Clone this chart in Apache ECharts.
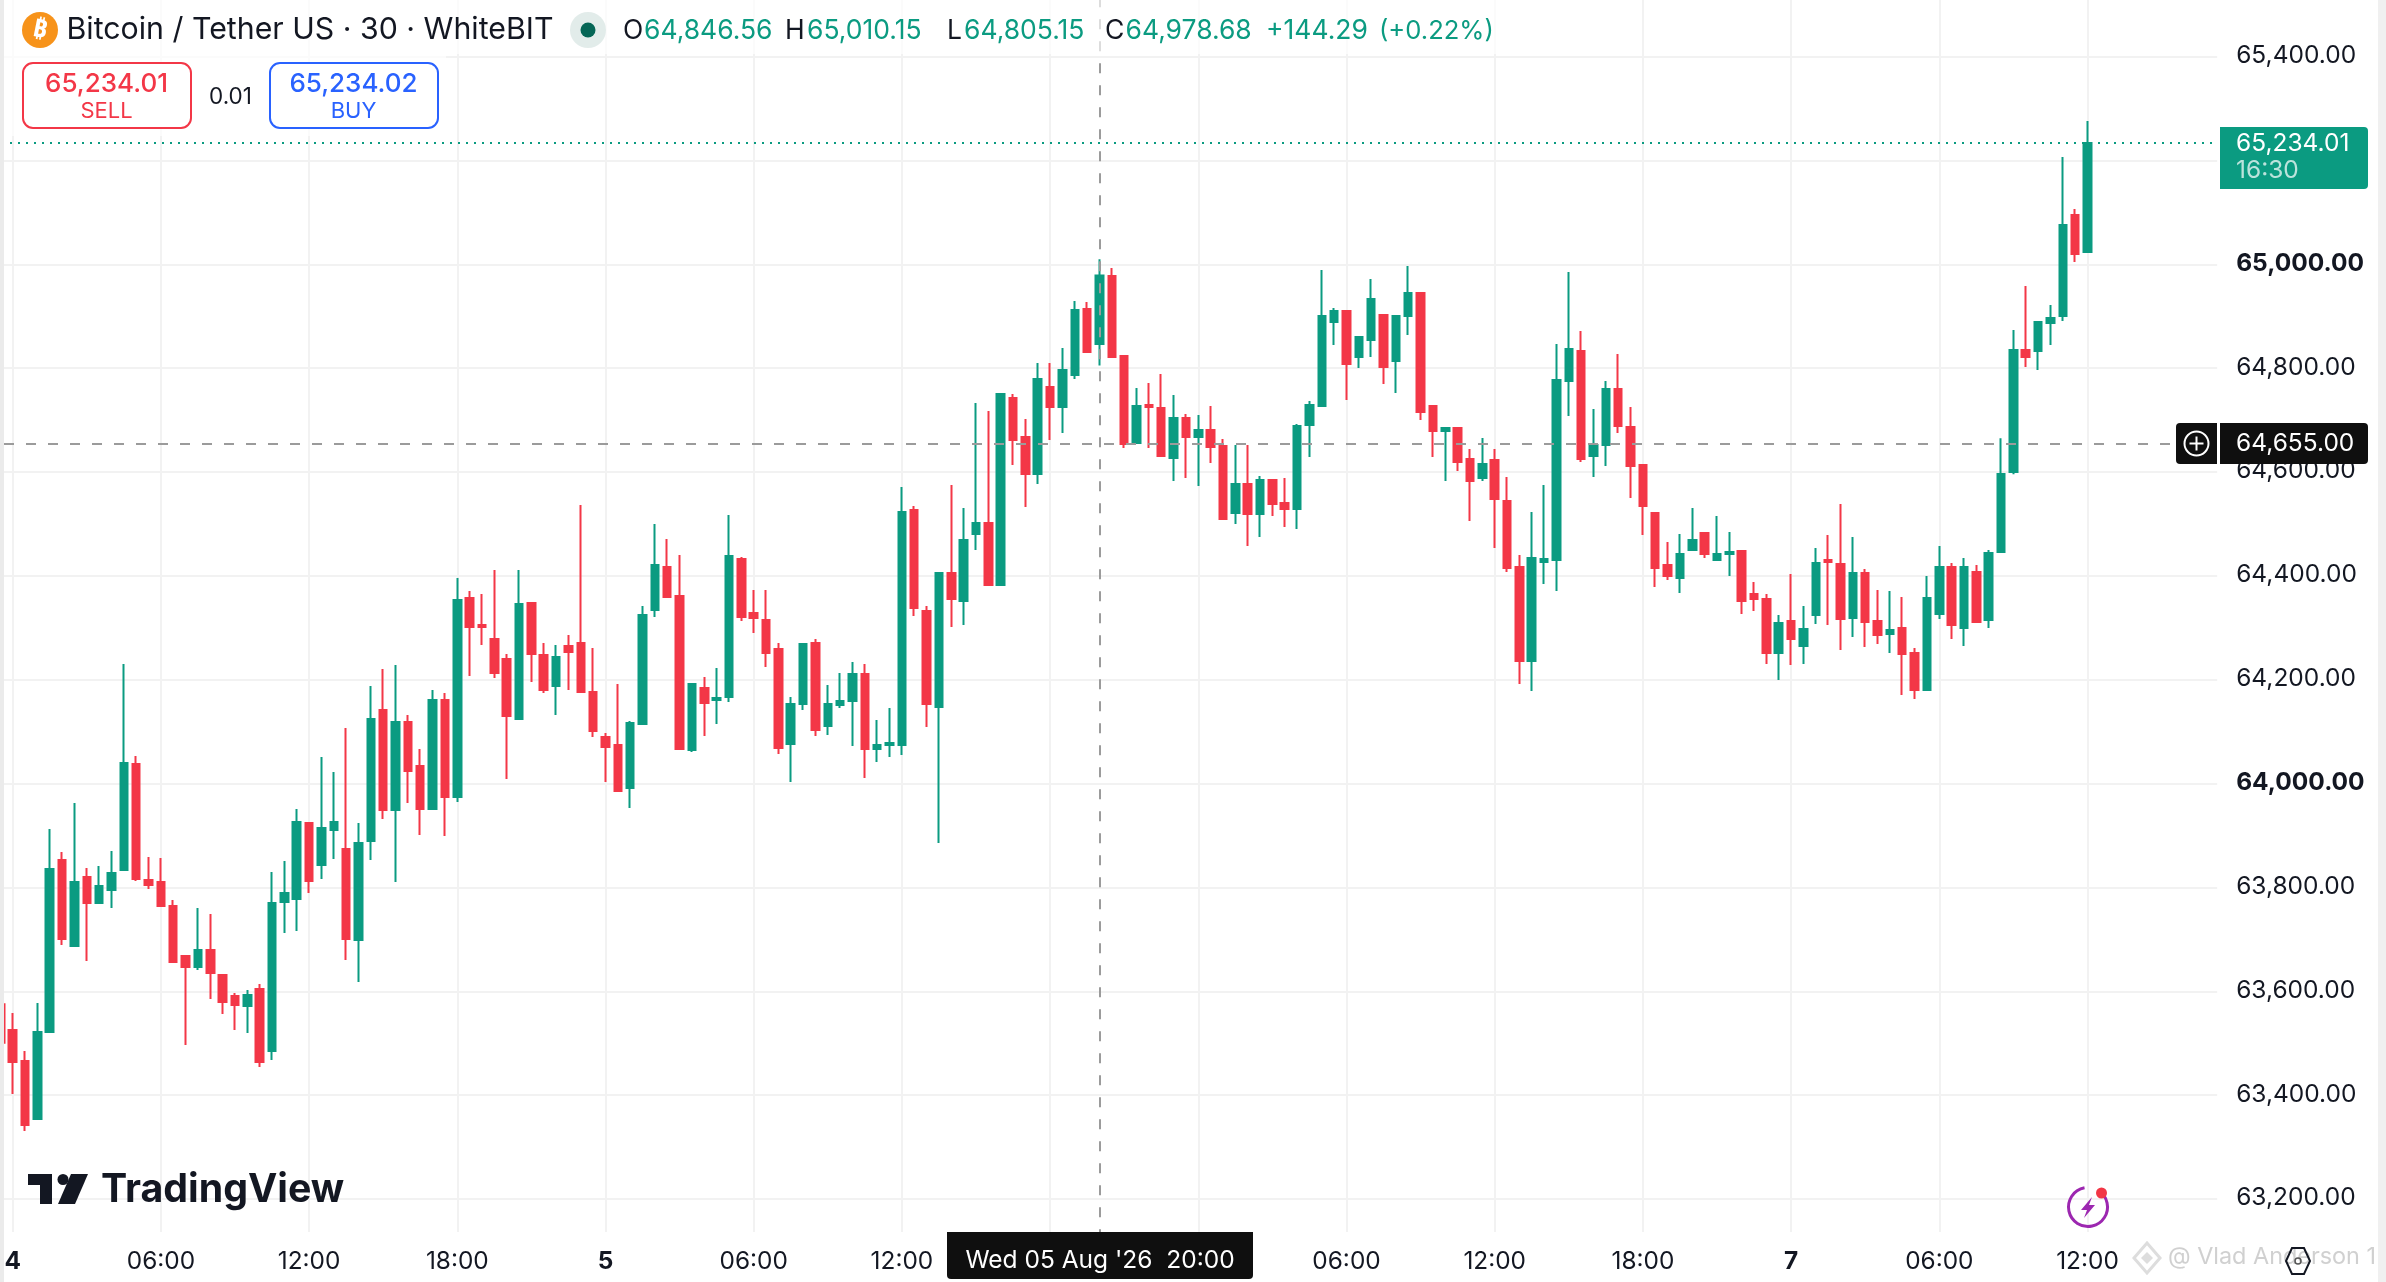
<!DOCTYPE html>
<html><head><meta charset="utf-8">
<script src="https://cdn.jsdelivr.net/npm/echarts@6/dist/echarts.min.js"></script>
<style>html,body{margin:0;padding:0;background:#fff}#c{width:2386px;height:1282px}</style>
</head><body><div id="c"></div>
<script>
// ---------- data (30-minute bars) ----------
const opens = [63575,63525.5,63465.8,63354,63521.7,63852.9,63687.3,63820.2,63770.2,63795.2,63833.7,64037.8,63814.4,63810.6,63764.3,63668,63646.9,63679.6,63631.4,63591,63571.7,63604.5,63485,63772,63777.8,63924.2,63843.3,63910.7,63874.1,63698.9,63889.5,64141.8,63949.2,64118.7,64034,63951.1,64161.1,63974.3,64357.5,64305.5,64278.6,64240,64124.5,64347.9,64247.7,64188,64265.1,64270.9,64176.5,64089.8,64074.4,63991.6,64114.9,64334.4,64417.2,64361.4,64064.8,64184.2,64161.1,64166.9,64432.6,64328.6,64315.2,64259.3,64076.3,64153.4,64270.9,64111,64151.4,64159.2,64211.2,64066.7,64074.4,64074.4,64527,64332.5,64147.6,64405.7,64351.8,64480.8,64502,64382.6,64742.7,64667.5,64596.4,64763.8,64725.3,64786.9,64914.1,64846.56,64977.6,64823.5,64656,64729.2,64723.4,64627.2,64704.1,64667.5,64681,64650.3,64521.2,64577.1,64519.3,64584.8,64540.5,64528.9,64690.6,64727.2,64889,64910.2,64821.6,64854.4,64902.5,64813.9,64900.6,64944.9,64727.2,64679.1,64684.9,64625.2,64588.7,64623.3,64544.4,64417.2,64236.2,64426.9,64430.7,64775.4,64833.2,64631,64652.1,64760,64686.8,64613.7,64521.2,64421.1,64396.1,64450,64482.7,64430.7,64442.3,64448.1,64365.2,64355.6,64251.6,64313.2,64265.1,64324.8,64430.7,64423,64319,64405.7,64313.2,64288.2,64299.8,64251.6,64180.3,64326.7,64417.2,64299.8,64407.6,64315.2,64446.1,64600,64835.1,64833.2,64887.1,64900.6,65095.1,65023.8];
const closes = [63501,63463.9,63342.5,63521.7,63835.6,63700.8,63810.6,63770.2,63802.9,63827.9,64039.7,63816.3,63804.8,63764.3,63656.5,63646.9,63679.6,63635.3,63579.4,63573.7,63592.9,63463.9,63770.2,63789.4,63926.1,63812.5,63914.6,63926.1,63700.8,63885.7,64124.5,63949.2,64118.7,64024.3,63951.1,64161.1,63974.3,64353.7,64301.7,64301.7,64213.1,64130.3,64346,64249.7,64180.3,64243.9,64253.5,64176.5,64101.4,64070.6,63985.8,64116.8,64324.8,64421.1,64359.5,64066.7,64191.9,64155.3,64164.9,64438.4,64320.9,64319,64251.6,64068.6,64153.4,64268.9,64103.3,64153.4,64159.2,64211.2,64066.7,64074.4,64078.3,64523.2,64338.3,64153.4,64405.7,64355.6,64469.2,64502,64382.6,64750.4,64661.8,64596.4,64779.2,64725.3,64796.6,64912.1,64831.2,64978.68,64821.6,64654.1,64727.2,64725.3,64630.9,64704.1,64667.5,64681,64648.3,64509.7,64577.1,64519.3,64584.8,64538.6,64528.9,64688.7,64729.2,64900.6,64910.2,64808.1,64860.1,64933.3,64802.4,64900.6,64944.9,64715.7,64679.1,64684.9,64619.4,64582.9,64615.6,64548.2,64415.3,64236.2,64434.6,64432.6,64777.3,64837,64625.2,64652.2,64760,64688.7,64611.8,64534.7,64415.3,64399.9,64442.3,64469.2,64442.3,64442.3,64446.1,64351.8,64355.6,64251.6,64309.4,64278.6,64297.8,64424.9,64426.9,64317.1,64405.7,64311.3,64286.3,64295.9,64249.7,64180.3,64357.5,64417.2,64305.5,64417.2,64311.3,64444.2,64596.4,64835.1,64821.6,64889,64896.7,65075.8,65020,65234.01];
const lows = [63490,63402.3,63331,63354,63521.7,63689,63687.3,63658.4,63770.2,63760.5,63833.7,63812.5,63797.1,63764.3,63656.5,63496.6,63641.1,63585.2,63556.3,63525.5,63519.7,63454.3,63467.7,63712.3,63716.2,63789.4,63816.3,63854.8,63660.3,63618,63852.9,63931.9,63810.6,63962.7,63901.1,63949.2,63899.1,63964.6,64207.3,64267,64203.5,64008.9,64124.5,64195.7,64174.6,64132.2,64180.3,64176.5,64089.8,64003.1,63983.9,63953.1,64114.9,64320.9,64359.5,64066.7,64060.9,64091.7,64114.9,64157.2,64313.2,64290.1,64224.6,64057.1,64003.1,64141.8,64091.7,64093.7,64145.7,64072.5,64010.9,64041.7,64051.3,64055.1,64322.9,64109.1,63885.7,64301.7,64305.5,64450,64382.6,64382.6,64613.6,64532.8,64577.1,64661.8,64675.2,64779.2,64831.2,64805.15,64821.6,64646.4,64656,64646.4,64629,64582.9,64588.7,64573.2,64617.5,64509.7,64500.1,64457.7,64475,64515.5,64494.3,64490.4,64629,64727.2,64844.7,64738.8,64800.4,64821.6,64769.6,64752.3,64864,64700.3,64629,64582.9,64602.1,64505.8,64582.9,64453.8,64407.6,64191.9,64178.4,64384.5,64371,64708,64619.4,64590.6,64611.7,64675.2,64550.1,64478.9,64378.7,64392.2,64367.2,64448.1,64434.6,64430.7,64399.9,64326.7,64332.5,64230.4,64199.6,64228.5,64230.4,64307.5,64305.5,64257.4,64282.4,64263.2,64268.9,64251.6,64170.7,64163,64180.3,64317.1,64278.6,64265.1,64311.3,64299.8,64446.1,64596,64802.4,64796.6,64844.7,64891,65004.6,65021.9];
const highs = [63590,63558.3,63485,63577.5,63912.6,63868.3,63962.7,63837.5,63841.4,63870.3,64230.4,64053.2,63858.7,63856.8,63775.9,63668,63760.5,63748.9,63631.4,63596.8,63602.6,63614.1,63829.8,63851,63951.1,63924.2,64051.3,64022.4,64107.2,63924.2,64188,64220.8,64228.5,64132.2,64066.7,64180.3,64174.6,64396.1,64371,64365.2,64411.5,64249.7,64411.5,64347.9,64270.9,64267,64286.3,64536.6,64261.2,64097.5,64191.9,64120.6,64342.1,64500.1,64471.2,64440.3,64191.9,64205.4,64222.7,64517.4,64436.5,64372.9,64372.9,64270.9,64166.9,64268.9,64278.6,64190,64213.1,64234.3,64230.4,64122.6,64145.7,64571.3,64534.7,64342.1,64405.7,64575.2,64530.9,64733,64717.6,64752.3,64750.4,64702.2,64810.1,64810.1,64839,64929.5,64927.5,65010.15,64993,64823.5,64761.9,64771.5,64788.9,64748.4,64711.8,64709.9,64727.2,64663.8,64652.2,64652.2,64592.5,64584.8,64588.7,64692.6,64736.9,64989.2,64916,64910.2,64860.1,64971.8,64904.4,64900.6,64996.9,64944.9,64727.2,64686.8,64684.9,64644.5,64665.7,64644.5,64590.6,64440.3,64523.2,64575.2,64846.7,64985.3,64871.7,64721.5,64775.4,64827.4,64725.3,64613.7,64521.2,64465.4,64480.8,64530.9,64484.6,64515.5,64484.6,64448.1,64388.3,64365.2,64324.8,64403.8,64342.1,64453.8,64478.9,64538.6,64475,64413.4,64372.9,64371,64359.5,64261.2,64399.9,64457.7,64424.9,64434.6,64421.1,64450,64665,64873.6,64958.4,64889,64921.8,65206.8,65106.7,65276.2];
const timeTickLabels = ['4','06:00','12:00','18:00','5','06:00','12:00','18:00','6','06:00','12:00','18:00','7','06:00','12:00'];
const priceTicks = [63200,63400,63600,63800,64000,64200,64400,64600,64800,65000,65200,65400];
const priceLabelTicks = [63200,63400,63600,63800,64000,64200,64400,64600,64800,65000,65400];
const lastPrice = 65234.01;
const crosshairPrice = 64655;
const crosshairBar = 89; // Wed 05 Aug '26 20:00

// ---------- scale setup ----------
const GREEN='#0b9b81', RED='#f33747', INK='#131722', FONT='Inter, "Noto Sans", sans-serif';
const totalSlots = 180, barsPerTick = 12;
const categories = Array.from({length: totalSlots}, (_, k) => 'k' + k);
const isTick = k => k >= 1 && (k - 1) % barsPerTick === 0 && (k - 1) / barsPerTick < timeTickLabels.length;
const labelOf = k => timeTickLabels[(k - 1) / barsPerTick];
const candles = opens.map((o, i) => [o, closes[i], lows[i], highs[i]]);

const chart = echarts.init(document.getElementById('c'), null, {renderer: 'canvas', width: 2386, height: 1282});

const txt = (text, x, y, fill, font, align) => ({type:'text', z:120, silent:true, style:{text, x, y, fill, font:font+' '+FONT, textAlign:align||'left', textVerticalAlign:'middle'}});
const rect = (x, y, w, h, fill, r, z, extra) => ({type:'rect', z:z||110, silent:true, shape:{x,y,width:w,height:h,r:r||0}, style:Object.assign({fill}, extra||{})});
const hdr = '400 26.5px', G=GREEN, AX='400 24.5px';

const graphics = [
  rect(0,0,1510,54,'rgba(255,255,255,0.65)',0,50),
  rect(0,54,446,82,'rgba(255,255,255,0.65)',0,50),
  rect(0,0,4,1282,'#ebebeb',0,130),
  rect(2378,0,8,1282,'#f0f0f0',0,130),
  // symbol header
  {type:'circle', z:120, silent:true, shape:{cx:40,cy:30,r:18}, style:{fill:'#f7931a'}},
  {type:'text', z:121, silent:true, rotation:-0.2, x:40, y:30, style:{text:'₿', x:0, y:0, fill:'#fff', font:'700 25px "Noto Sans", "DejaVu Sans", sans-serif', textAlign:'center', textVerticalAlign:'middle'}},
  txt('Bitcoin / Tether US · 30 · WhiteBIT',66.5,30,INK,'400 30.3px'),
  {type:'circle', z:120, silent:true, shape:{cx:588,cy:30,r:18}, style:{fill:'#e2ecea'}},
  {type:'circle', z:121, silent:true, shape:{cx:588,cy:30,r:7.5}, style:{fill:'#056656'}},
  txt('O',623,31,INK,hdr), txt('64,846.56',644,31,G,hdr),
  txt('H',785,31,INK,hdr), txt('65,010.15',807,31,G,hdr),
  txt('L',947,31,INK,hdr), txt('64,805.15',964,31,G,hdr),
  txt('C',1105,31,INK,hdr), txt('64,978.68',1125.5,31,G,hdr),
  txt('+144.29',1266,31,G,hdr), txt('(+0.22%)',1379,31,G,'400 25.6px'),
  // order buttons
  rect(23,63,168,65,'#fff',10,115,{stroke:RED,lineWidth:2}),
  txt('65,234.01',106.5,84,RED,'500 26px','center'),
  txt('SELL',106.5,111,RED,'400 22px','center'),
  txt('0.01',230.5,97,INK,'400 22.5px','center'),
  rect(270,63,168,65,'#fff',10,115,{stroke:'#2962ff',lineWidth:2}),
  txt('65,234.02',353.5,84,'#2962ff','500 26px','center'),
  txt('BUY',353.5,111,'#2962ff','400 22px','center'),
  // last price tag
  rect(2220,127,148,62,GREEN,[0,4,4,0],115),
  txt('65,234.01',2236,143.5,'#fff',AX),
  txt('16:30',2236,171,'rgba(255,255,255,0.72)',AX),
  // crosshair price tag
  rect(2176,423,41,41,'#0f0f0f',[4,0,0,4],115),
  rect(2220,423,148,41,'#0f0f0f',[0,4,4,0],115),
  {type:'circle', z:120, silent:true, shape:{cx:2196.5,cy:443.5,r:12}, style:{fill:'none',stroke:'#fff',lineWidth:2}},
  {type:'line', z:120, silent:true, shape:{x1:2189.5,y1:443.5,x2:2203.5,y2:443.5}, style:{stroke:'#fff',lineWidth:2}},
  {type:'line', z:120, silent:true, shape:{x1:2196.5,y1:436.5,x2:2196.5,y2:450.5}, style:{stroke:'#fff',lineWidth:2}},
  txt('64,655.00',2236,443.5,'#fff',AX),
  // crosshair time tag
  rect(947,1232,306,47,'#0f0f0f',[0,0,4,4],115),
  txt("Wed 05 Aug '26  20:00",1100,1261,'#fff','400 24.5px','center'),
  // TradingView logo
  rect(28,1174,24,11,'#131722',0,120),
  rect(40,1174,12,30,'#131722',0,120),
  {type:'circle', z:120, silent:true, shape:{cx:63,cy:1179.5,r:5.5}, style:{fill:'#131722'}},
  {type:'polygon', z:120, silent:true, shape:{points:[[71,1174],[88,1174],[75,1204],[58,1204]]}, style:{fill:'#131722'}},
  txt('TradingView',101,1190,'#131722','700 39.3px'),
  // bolt badge
  {type:'arc', z:120, silent:true, shape:{cx:2088,cy:1207,r:19.5,startAngle:-1.0,endAngle:-1.75,clockwise:true}, style:{fill:'none',stroke:'#9c27b0',lineWidth:3}},
  {type:'polygon', z:120, silent:true, shape:{points:[[2092,1197],[2081,1210],[2087,1210],[2084,1218],[2095,1205],[2089,1205]]}, style:{fill:'#9c27b0'}},
  {type:'circle', z:121, silent:true, shape:{cx:2101.5,cy:1193,r:5.5}, style:{fill:'#f23645'}},
  // watermark and hexagon
  {type:'polygon', z:120, silent:true, shape:{points:[[2147,1243],[2160,1258],[2147,1273],[2134,1258]]}, style:{fill:'none',stroke:'#dddddd',lineWidth:3}},
  {type:'polygon', z:120, silent:true, shape:{points:[[2147,1252],[2153,1258],[2147,1264],[2141,1258]]}, style:{fill:'#dddddd'}},
  {type:'polygon', z:122, silent:true, shape:{points:[[2292,1248],[2304,1248],[2310,1261],[2304,1274],[2292,1274],[2286,1261]]}, style:{fill:'none',stroke:'#131722',lineWidth:2}},
  {type:'circle', z:122, silent:true, shape:{cx:2298,cy:1261,r:3}, style:{fill:'none',stroke:'#555',lineWidth:1.5}},
  txt('@ Vlad Anderson 1',2168,1257,'rgba(200,200,200,0.85)','400 23.4px'),
];

chart.setOption({
  animation:false,
  backgroundColor:'#ffffff',
  textStyle:{fontFamily:FONT},
  grid:{left:-5.83, top:0, width:2223, height:1232, containLabel:false, outerBoundsMode:'none'},
  xAxis:{
    type:'category', data:categories, boundaryGap:true,
    axisLine:{show:false}, axisTick:{show:false, alignWithLabel:true, interval:(k)=>isTick(k)},
    axisLabel:{
      interval:(k)=>isTick(k), color:INK, fontSize:24.4, fontFamily:FONT, margin:18, showMinLabel:true,
      formatter:(v,k)=>{const t=labelOf(k); return /^\d$/.test(t)?'{d|'+t+'}':t;},
      rich:{d:{fontWeight:700,fontSize:24.4,fontFamily:FONT,color:INK}}
    },
    splitLine:{show:true, alignWithLabel:true, interval:(k)=>isTick(k), lineStyle:{color:'#f2f2f2',width:2}}
  },
  yAxis:{
    type:'value', position:'right', scale:true, min:63136.5, max:65509.2,
    axisLine:{show:false},
    axisTick:{show:false, customValues:priceTicks},
    axisLabel:{
      customValues:priceLabelTicks, color:INK, fontSize:24.5, fontFamily:FONT, margin:19, padding:[0,0,2,0],
      formatter:(v)=>{const s=v.toLocaleString('en-US',{minimumFractionDigits:2,maximumFractionDigits:2}); return v%1000===0?'{b|'+s+'}':s;},
      rich:{b:{fontWeight:700,fontSize:24.5,fontFamily:FONT,color:INK}}
    },
    splitLine:{show:true, lineStyle:{color:'#f2f2f2',width:2}}
  },
  series:[{
    type:'candlestick', data:candles, barWidth:8, clip:true,
    itemStyle:{color:GREEN,color0:RED,borderColor:GREEN,borderColor0:RED,borderWidth:2},
    markLine:{
      silent:true, symbol:'none', animation:false, precision:2, label:{show:false},
      data:[
        {yAxis:lastPrice, lineStyle:{color:GREEN,type:[2,6],dashOffset:0.17,width:2}},
        {yAxis:crosshairPrice, lineStyle:{color:'#9b9b9b',type:[10,12],dashOffset:12.17,width:2}},
        {xAxis:categories[crosshairBar], lineStyle:{color:'#9b9b9b',type:[10,12],dashOffset:7.3,width:2}}
      ]
    }
  }],
  graphic:{elements:graphics}
});
</script></body></html>
